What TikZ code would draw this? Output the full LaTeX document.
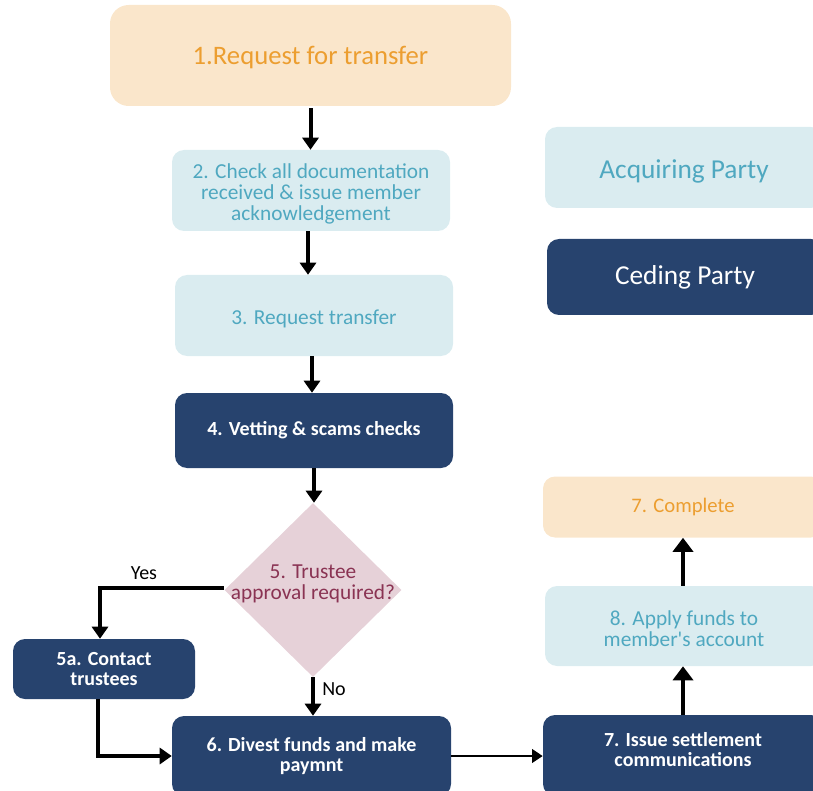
\documentclass[tikz,border=0pt]{standalone}
\usepackage{fontspec}
\setmainfont{Carlito}
\usetikzlibrary{arrows.meta,shapes.geometric}
\definecolor{peachfill}{HTML}{FAE6CB}
\definecolor{orangetext}{HTML}{EC9E30}
\definecolor{aquafill}{HTML}{DAECF0}
\definecolor{aquatext}{HTML}{4FA8C0}
\definecolor{navy}{HTML}{27436E}
\definecolor{pinkfill}{HTML}{E6D1D8}
\definecolor{maroon}{HTML}{8A3353}
\begin{document}
\begin{tikzpicture}[x=0.75pt,y=-0.75pt,
  sz/.style 2 args={minimum width=#1*0.75pt, minimum height=#2*0.75pt, inner sep=0pt},
  basebox/.style={rectangle, rounded corners=9pt, draw=none, align=center},
  peachbox/.style={basebox, fill=peachfill, text=orangetext},
  aquabox/.style={basebox, fill=aquafill, text=aquatext, font=\fontsize{16}{15.75}\selectfont},
  navybox/.style={basebox, fill=navy, text=white, font=\bfseries\fontsize{15}{15}\selectfont},
  txt/.style={align=center, inner sep=0pt},
  aquatxt/.style={txt, text=aquatext, font=\fontsize{16}{15.75}\selectfont},
  arr/.style={line width=3pt, -{Triangle[width=12pt,length=9pt]}},
  bigarr/.style={line width=3.6pt, -{Triangle[width=15pt,length=10.5pt]}},
  thinarr/.style={line width=2.1pt, -{Triangle[width=10pt,length=8pt]}},
  lbl/.style={font=\fontsize{15}{15}\selectfont, text=black, inner sep=0pt}
]
\useasboundingbox (0,0) rectangle (813,791);
\clip (0,0) rectangle (813,791);

% left column
\node[peachbox, rounded corners=14pt, sz={401}{101}] (b1) at (310.5,55.5) {};
\node[txt, text=orangetext, font=\fontsize{20}{20}\selectfont] (b1text) at (310.5,57.5) {1.Request for transfer};
\node[aquabox, sz={278}{81}] (b2) at (311,190.5) {};
\node[aquatxt] (b2text) at (311,193.5) {2. Check all documentation\\received \& issue member\\acknowledgement};
\node[aquabox, sz={278}{81}] (b3) at (314,315.5) {};
\node[aquatxt] (b3text) at (314,319) {3. Request transfer};
\node[navybox, sz={278}{75}] (b4) at (314,430.5) {4. Vetting \& scams checks};
\node[diamond, fill=pinkfill, draw=none, sz={177}{174}] (dia) at (313,590) {};
\node[txt, text=maroon, font=\fontsize{16}{15.5}\selectfont] (diatext) at (313,584) {5. Trustee\\approval required?};
\node[navybox, sz={182}{60}] (c5a) at (104,669) {5a. Contact\\trustees};
\node[navybox, sz={279}{80}] (b6) at (311.5,756) {6. Divest funds and make\\paymnt};

% right column
\node[aquabox, sz={278}{81}] (acq) at (684,167.5) {};
\node[aquatxt, font=\fontsize{20.5}{20}\selectfont] (acqtext) at (684,171) {Acquiring Party};
\node[basebox, fill=navy, text=white, sz={276}{76}, font=\fontsize{20.5}{20}\selectfont] (ced) at (685,277) {Ceding Party};
\node[peachbox, sz={280}{61}, font=\fontsize{15.5}{15}\selectfont] (comp) at (683,507) {7. Complete};
\node[aquabox, sz={278}{80}] (b8) at (684,626) {};
\node[aquatxt] (b8text) at (684,628.5) {8. Apply funds to\\member\textquotesingle s account};
\node[navybox, sz={280}{81}] (iss) at (683,755.5) {};
\node[txt, text=white, font=\bfseries\fontsize{15}{15}\selectfont] (isstext) at (683,750) {7. Issue settlement\\communications};

% connectors
\draw[arr] ([yshift=-1.5pt]b1.south) -- (b1.south |- b2.north);
\draw[arr] ([xshift=-2.25pt]b2.south) -- ([xshift=-2.25pt]b2.south |- b3.north);
\draw[arr] ([xshift=-1.5pt]b3.south) -- ([xshift=-1.5pt]b3.south |- b4.north);
\draw[arr] (b4.south) -- (b4.south |- dia.north);
\draw[arr] ([yshift=1.5pt]dia.west) -| ([xshift=-3pt]c5a.north);
\draw[arr] (dia.south) -- (dia.south |- b6.north);
\draw[arr] ([xshift=-4.5pt]c5a.south) |- (b6.west);
\draw[thinarr] (b6.east) -- (b6.east -| iss.west);
\draw[bigarr] (iss.north) -- (iss.north |- b8.south);
\draw[bigarr] ([xshift=-0.75pt]b8.north) -- ([xshift=-0.75pt]b8.north |- comp.south);

% labels
\node[lbl] (yes) at (144,573) {Yes};
\node[lbl, anchor=west] (no) at (322,689) {No};
\end{tikzpicture}
\end{document}
